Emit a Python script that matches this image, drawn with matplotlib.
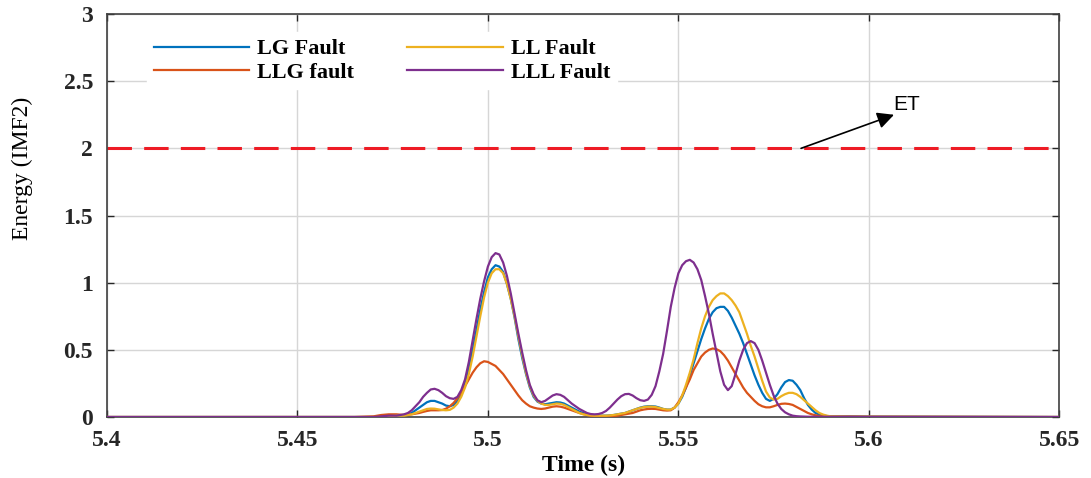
import numpy as np
import matplotlib
matplotlib.use("Agg")
import matplotlib.pyplot as plt

# ---------------- data ----------------
# sample times: sparse lead-in, 1 ms grid over the active window, sparse tail
time_head = [5.400, 5.465, 5.470, 5.472, 5.474, 5.476]
time_dense = list(np.round(np.linspace(5.478, 5.590, 113), 3))
time_tail = [5.595, 5.600, 5.650]
time = time_head + time_dense + time_tail

lg_fault = ([0.0, 0.0, 0.0, 0.0, 0.005, 0.01] +
            [0.015, 0.02, 0.03, 0.05, 0.07, 0.09, 0.11, 0.12, 0.12, 0.11,
             0.10, 0.085, 0.08, 0.09, 0.12, 0.17, 0.25, 0.36, 0.50, 0.65,
             0.80, 0.93, 1.04, 1.10, 1.13, 1.12, 1.08, 0.99, 0.88, 0.74,
             0.58, 0.44, 0.32, 0.22, 0.15, 0.115, 0.10, 0.095, 0.10, 0.105,
             0.11, 0.108, 0.10, 0.085, 0.07, 0.055, 0.04, 0.03, 0.02, 0.015,
             0.01, 0.01, 0.01, 0.01, 0.012, 0.015, 0.02, 0.025, 0.03, 0.04,
             0.05, 0.06, 0.07, 0.077, 0.08, 0.08, 0.078, 0.07, 0.06, 0.055,
             0.055, 0.07, 0.10, 0.15, 0.22, 0.31, 0.40, 0.49, 0.58, 0.66,
             0.73, 0.78, 0.81, 0.82, 0.82, 0.79, 0.74, 0.68, 0.62, 0.55,
             0.47, 0.39, 0.31, 0.24, 0.18, 0.135, 0.12, 0.135, 0.17, 0.22,
             0.26, 0.275, 0.27, 0.24, 0.20, 0.14, 0.09, 0.055, 0.03, 0.018,
             0.01, 0.007, 0.005] +
            [0.005, 0.003, 0.0])

llg_fault = ([0.0, 0.0, 0.005, 0.015, 0.02, 0.02] +
             [0.015, 0.017, 0.02, 0.025, 0.03, 0.038, 0.045, 0.05, 0.05, 0.05,
              0.052, 0.062, 0.08, 0.105, 0.14, 0.18, 0.23, 0.28, 0.33, 0.37,
              0.40, 0.415, 0.41, 0.395, 0.38, 0.35, 0.32, 0.28, 0.24, 0.20,
              0.16, 0.125, 0.10, 0.08, 0.07, 0.063, 0.06, 0.063, 0.07, 0.077,
              0.08, 0.077, 0.07, 0.06, 0.05, 0.04, 0.03, 0.022, 0.015, 0.009,
              0.005, 0.003, 0.003, 0.004, 0.005, 0.007, 0.01, 0.015, 0.02, 0.025,
              0.03, 0.04, 0.05, 0.056, 0.06, 0.061, 0.06, 0.055, 0.05, 0.048,
              0.05, 0.07, 0.11, 0.16, 0.22, 0.28, 0.35, 0.40, 0.45, 0.48,
              0.50, 0.51, 0.505, 0.49, 0.46, 0.42, 0.37, 0.32, 0.27, 0.22,
              0.18, 0.15, 0.12, 0.095, 0.08, 0.072, 0.072, 0.08, 0.09, 0.098,
              0.10, 0.097, 0.09, 0.075, 0.06, 0.045, 0.03, 0.02, 0.013, 0.008,
              0.005, 0.004, 0.003] +
             [0.003, 0.002, 0.0])

ll_fault = ([0.0, 0.0, 0.0, 0.0, 0.005, 0.01] +
            [0.01, 0.015, 0.02, 0.03, 0.04, 0.05, 0.06, 0.063, 0.062, 0.057,
             0.052, 0.05, 0.053, 0.07, 0.10, 0.15, 0.22, 0.32, 0.45, 0.60,
             0.75, 0.89, 1.00, 1.07, 1.10, 1.10, 1.07, 0.99, 0.88, 0.75,
             0.60, 0.46, 0.33, 0.23, 0.16, 0.12, 0.10, 0.09, 0.09, 0.095,
             0.10, 0.098, 0.09, 0.075, 0.06, 0.045, 0.03, 0.02, 0.015, 0.012,
             0.01, 0.01, 0.01, 0.01, 0.012, 0.015, 0.02, 0.025, 0.03, 0.04,
             0.05, 0.06, 0.068, 0.074, 0.077, 0.077, 0.074, 0.067, 0.06, 0.055,
             0.055, 0.07, 0.10, 0.16, 0.24, 0.33, 0.43, 0.55, 0.66, 0.75,
             0.82, 0.87, 0.90, 0.92, 0.92, 0.90, 0.87, 0.83, 0.78, 0.70,
             0.62, 0.53, 0.45, 0.36, 0.27, 0.19, 0.145, 0.13, 0.135, 0.155,
             0.17, 0.18, 0.18, 0.17, 0.15, 0.125, 0.10, 0.075, 0.05, 0.03,
             0.018, 0.01, 0.005] +
            [0.003, 0.002, 0.0])

lll_fault = ([0.0, 0.0, 0.0, 0.005, 0.01, 0.01] +
             [0.02, 0.03, 0.05, 0.08, 0.11, 0.15, 0.18, 0.205, 0.21, 0.20,
              0.18, 0.155, 0.14, 0.135, 0.15, 0.20, 0.28, 0.41, 0.57, 0.73,
              0.88, 1.01, 1.12, 1.19, 1.22, 1.21, 1.15, 1.05, 0.92, 0.77,
              0.62, 0.48, 0.35, 0.24, 0.17, 0.125, 0.11, 0.12, 0.14, 0.16,
              0.17, 0.165, 0.15, 0.125, 0.10, 0.08, 0.06, 0.045, 0.03, 0.022,
              0.02, 0.022, 0.03, 0.045, 0.07, 0.10, 0.13, 0.155, 0.17, 0.172,
              0.16, 0.14, 0.125, 0.12, 0.13, 0.165, 0.23, 0.34, 0.47, 0.64,
              0.82, 0.96, 1.07, 1.13, 1.16, 1.17, 1.15, 1.10, 1.02, 0.90,
              0.77, 0.62, 0.48, 0.34, 0.24, 0.20, 0.23, 0.32, 0.42, 0.50,
              0.55, 0.565, 0.55, 0.50, 0.42, 0.33, 0.24, 0.16, 0.10, 0.06,
              0.035, 0.02, 0.01, 0.006, 0.004, 0.003, 0.002, 0.002, 0.002, 0.002,
              0.002, 0.002, 0.002] +
             [0.002, 0.001, 0.0])

threshold = 2.0
x_ticks = [5.4, 5.45, 5.5, 5.55, 5.6, 5.65]
x_tick_labels = ["5.4", "5.45", "5.5", "5.55", "5.6", "5.65"]
y_ticks = [0, 0.5, 1, 1.5, 2, 2.5, 3]
y_tick_labels = ["0", "0.5", "1", "1.5", "2", "2.5", "3"]

series_labels = ["LG Fault", "LLG fault", "LL Fault", "LLL Fault"]
series_colors = ["#0072BD", "#D95319", "#EDB120", "#7E2F8E"]

# ---------------- figure ----------------
fig = plt.figure(figsize=(10.91, 4.78), dpi=100)
ax = fig.add_axes([0.098, 0.1276, 0.873, 0.8431])

serif = ["Liberation Serif", "DejaVu Serif"]

# threshold line
ax.plot([x_ticks[0], x_ticks[-1]], [threshold, threshold], color="#ee1c25",
        lw=2.2, dashes=(8, 4), zorder=2)

handles = []
for vals, lab, col in zip([lg_fault, llg_fault, ll_fault, lll_fault],
                          series_labels, series_colors):
    h, = ax.plot(time, vals, color=col, lw=1.6, label=lab, zorder=3)
    handles.append(h)

ax.set_xlim(5.4, 5.65)
ax.set_ylim(0, 3)
ax.set_xticks(x_ticks)
ax.set_xticklabels(x_tick_labels)
ax.set_yticks(y_ticks)
ax.set_yticklabels(y_tick_labels)
for lbl in ax.get_xticklabels() + ax.get_yticklabels():
    lbl.set_fontfamily(serif)
    lbl.set_fontweight("bold")
    lbl.set_fontsize(17)

ax.tick_params(direction="in", length=5, width=1, colors="#262626",
               top=True, right=True)
ax.tick_params(axis="x", pad=9)
ax.tick_params(axis="y", pad=10)
ax.grid(True, color="#d6d6d6", lw=1)
ax.set_axisbelow(True)
for s in ax.spines.values():
    s.set_color("#404040")
    s.set_linewidth(1.2)

ax.set_xlabel("Time (s)", fontfamily=serif, fontweight="bold", fontsize=17,
              labelpad=3)
ax.set_ylabel("Energy (IMF2)", fontfamily=serif, fontsize=17)
ax.yaxis.set_label_coords(-0.078, 0.617)

leg = ax.legend(handles=handles, ncol=2, loc="upper left",
                bbox_to_anchor=(0.042, 0.955), borderaxespad=0,
                prop={"family": serif, "weight": "bold", "size": 16},
                handlelength=4.3, handletextpad=0.36, columnspacing=2.4,
                labelspacing=0.12, frameon=True, fancybox=False,
                borderpad=0.3)
leg.get_frame().set_edgecolor("white")
leg.get_frame().set_facecolor("white")
leg.get_frame().set_alpha(1.0)

ax.annotate("", xy=(5.6066, 2.25), xytext=(5.5822, 2.0),
            arrowprops=dict(arrowstyle="-|>,head_length=1.0,head_width=0.5",
                            color="black", lw=1.2, shrinkA=0, shrinkB=0),
            zorder=5)
ax.text(5.6064, 2.33, "ET", fontsize=15, fontfamily="Liberation Sans",
        va="center", ha="left", color="black")

fig.savefig("out.png", dpi=100)
